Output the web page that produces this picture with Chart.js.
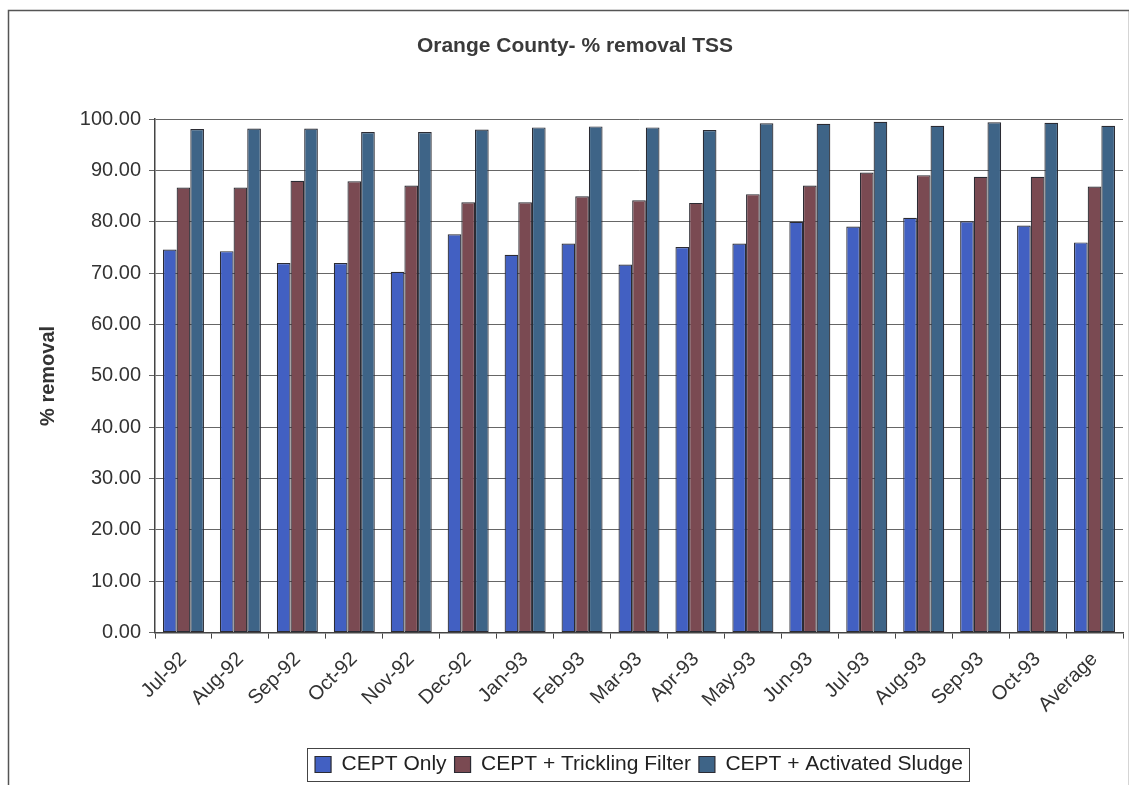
<!DOCTYPE html>
<html>
<head>
<meta charset="utf-8">
<script src="https://cdn.jsdelivr.net/npm/chart.js@4"></script>
<style>
  html, body { margin: 0; padding: 0; background: #fff; }
  #wrap { width: 1129px; height: 785px; }
</style>
</head>
<body>
<div id="wrap"><canvas id="tssChart" width="1129" height="785"></canvas></div>
<script>
// categories and values
const months = ['Jul-92', 'Aug-92', 'Sep-92', 'Oct-92', 'Nov-92', 'Dec-92', 'Jan-93', 'Feb-93', 'Mar-93',
  'Apr-93', 'May-93', 'Jun-93', 'Jul-93', 'Aug-93', 'Sep-93', 'Oct-93', 'Average'];
const ceptOnly = [74.6, 74.3, 72.0, 72.0, 70.3, 77.6, 73.6, 75.8, 71.7, 75.1, 75.8, 80.0, 79.1, 80.8, 80.1, 79.3, 76.0];
const ceptTrickling = [86.7, 86.7, 88.0, 87.9, 87.1, 83.8, 83.8, 85.0, 84.2, 83.7, 85.4, 87.1, 89.6, 89.1, 88.8, 88.8, 86.9];
const ceptSludge = [98.1, 98.2, 98.2, 97.5, 97.5, 98.0, 98.4, 98.6, 98.4, 97.9, 99.2, 99.1, 99.5, 98.7, 99.4, 99.3, 98.7];

const FONT = 'Liberation Sans, Arial, sans-serif';

// outer frame, legend centred under the plot, box round the legend
const framePlugin = {
  id: 'frame',
  afterLayout(chart) {
    const lg = chart.legend;
    if (lg) {
      lg.left = chart.chartArea.left;
      lg.right = chart.chartArea.right;
      lg.width = lg.right - lg.left;
    }
    const tb = chart.titleBlock;
    if (tb) {
      tb.left = 27;
      tb.width = tb.right - tb.left;
    }
  },
  beforeDraw(chart) {
    const c = chart.ctx;
    c.save();
    c.fillStyle = '#fff';
    c.fillRect(0, 0, chart.width, chart.height);
    c.strokeStyle = '#555';
    c.lineWidth = 1.5;
    c.strokeRect(8.5, 10.5, chart.width - 8, chart.height + 10);
    c.restore();
  },
  afterDraw(chart) {
    const lg = chart.legend;
    if (!lg || !lg.legendHitBoxes.length) return;
    const boxes = lg.legendHitBoxes;
    const x0 = boxes[0].left - 8;
    const last = boxes[boxes.length - 1];
    const x1 = last.left + last.width + 6;
    const y0 = boxes[0].top - 6;
    const y1 = boxes[0].top + boxes[0].height + 6;
    const c = chart.ctx;
    c.save();
    c.strokeStyle = '#444';
    c.lineWidth = 1;
    c.strokeRect(Math.round(x0) + 0.5, Math.round(y0) + 0.5, Math.round(x1 - x0), Math.round(y1 - y0));
    c.restore();
  }
};

const ctx = document.getElementById('tssChart').getContext('2d');
new Chart(ctx, {
  type: 'bar',
  data: {
    labels: months,
    datasets: [
      { label: 'CEPT Only', data: ceptOnly, backgroundColor: '#4260c2' },
      { label: 'CEPT + Trickling Filter', data: ceptTrickling, backgroundColor: '#7a4a52' },
      { label: 'CEPT + Activated Sludge', data: ceptSludge, backgroundColor: '#3e6487' }
    ]
  },
  options: {
    responsive: false,
    animation: false,
    layout: { padding: { left: 0, right: 6, top: 0, bottom: 0 } },
    datasets: {
      bar: { categoryPercentage: 0.72, barPercentage: 1.0, borderColor: '#2b2b33', borderWidth: 1.2, borderSkipped: false }
    },
    plugins: {
      title: {
        display: true,
        text: 'Orange County- % removal TSS',
        color: '#3a3a3a',
        font: { family: FONT, size: 21, weight: 'bold' },
        padding: { top: 34, bottom: 60 }
      },
      legend: {
        position: 'bottom',
        labels: {
          color: '#222',
          boxWidth: 16,
          boxHeight: 16,
          padding: 8,
          font: { family: FONT, size: 21 }
        }
      },
      tooltip: { enabled: false }
    },
    scales: {
      x: {
        afterFit(scale) { scale.height += 20; },
        grid: { offset: true, drawOnChartArea: false, drawTicks: true, tickLength: 6, color: '#444' },
        border: { color: '#444', width: 1.5 },
        ticks: {
          color: '#333',
          maxRotation: 45,
          minRotation: 45,
          padding: 9,
          font: { family: FONT, size: 20 }
        }
      },
      y: {
        min: 0,
        max: 100,
        afterFit(scale) { scale.width = 155; },
        ticks: {
          stepSize: 10,
          color: '#333',
          padding: 8,
          font: { family: FONT, size: 20 },
          callback: (v) => v.toFixed(2)
        },
        grid: { color: '#666', lineWidth: 1, tickLength: 6 },
        border: { color: '#444', width: 1.5 },
        title: {
          display: true,
          text: '% removal',
          color: '#333',
          font: { family: FONT, size: 20, weight: 'bold' },
          padding: { top: 36, bottom: 0 }
        }
      }
    }
  },
  plugins: [framePlugin]
});
</script>
</body>
</html>
